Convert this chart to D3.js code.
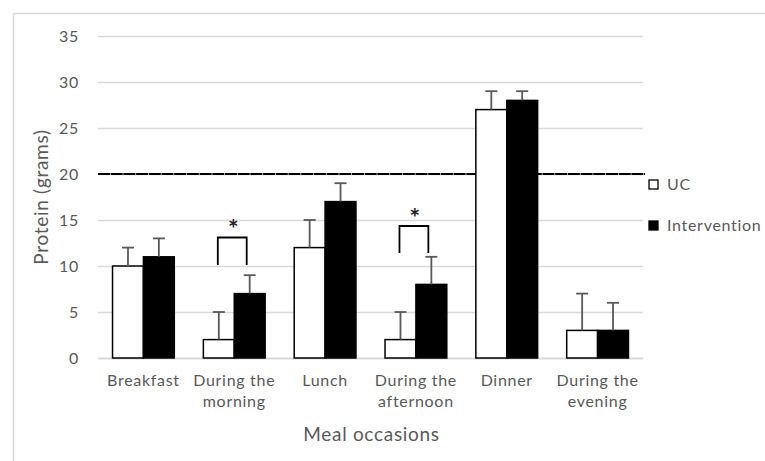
<!DOCTYPE html>
<html>
<head>
<meta charset="utf-8">
<script src="https://cdn.jsdelivr.net/npm/d3@7"></script>
<style>
  html,body{margin:0;padding:0;background:#fff;}
  svg{display:block;font-family:Lato,"Open Sans",sans-serif;}
</style>
</head>
<body>
<div id="chart"></div>
<script>
// data
const categories=["Breakfast","During the morning","Lunch","During the afternoon","Dinner","During the evening"];
const catLines=[["Breakfast"],["During the","morning"],["Lunch"],["During the","afternoon"],["Dinner"],["During the","evening"]];
const series=["UC","Intervention"];
const ucMean=[10,2,12,2,27,3];
const ucErr=[2,3,3,3,2,4];
const intMean=[11,7,17,8,28,3];
const intErr=[2,2,2,3,1,3];
const yTicks=[0,5,10,15,20,25,30,35];
const refLine=20;
// significance brackets: category, bracket top, leg bottom (grams)
const sigCats=["During the morning","During the afternoon"];
const sigTop=[13.1,14.35];
const sigBottom=[10.1,11.4];

(function(){
  const W=765,H=461;
  const m={left:98,right:122,top:36,bottom:103};
  const fill={UC:"#fff",Intervention:"#000"};
  const txt="#595959",grid="#d9d9d9",fs=16,ls=0.7;
  const svg=d3.select("#chart").append("svg").attr("width",W).attr("height",H);

  // outer frame (top and left edges visible)
  svg.append("line").attr("x1",13.5).attr("x2",W).attr("y1",13.5).attr("y2",13.5).attr("stroke",grid).attr("stroke-width",1.5);
  svg.append("line").attr("x1",13.5).attr("x2",13.5).attr("y1",13.5).attr("y2",H).attr("stroke",grid).attr("stroke-width",1.5);

  const x=d3.scaleBand().domain(categories).range([m.left,W-m.right]).paddingInner(.32).paddingOuter(.16);
  const xs=d3.scaleBand().domain(series).range([0,x.bandwidth()]);
  const y=d3.scaleLinear().domain([0,35]).range([H-m.bottom,m.top]);

  const rows=categories.map((c,i)=>({cat:c,lines:catLines[i],vals:[
    {s:"UC",v:ucMean[i],e:ucErr[i]},{s:"Intervention",v:intMean[i],e:intErr[i]}]}));

  // gridlines + tick labels
  svg.append("g").selectAll("line").data(yTicks).join("line")
    .attr("x1",m.left).attr("x2",W-m.right)
    .attr("y1",d=>Math.round(y(d))+.5).attr("y2",d=>Math.round(y(d))+.5)
    .attr("stroke",grid).attr("stroke-width",d=>d===0?2:1.3);
  svg.append("g").selectAll("text").data(yTicks).join("text")
    .attr("x",m.left-19).attr("y",d=>y(d)+6).attr("text-anchor","end")
    .attr("font-size",fs).attr("letter-spacing",ls).attr("fill",txt).text(d=>d);

  // reference line at 20 g
  svg.append("line").attr("x1",m.left).attr("x2",W-m.right+2)
    .attr("y1",y(refLine)).attr("y2",y(refLine))
    .attr("stroke","#000").attr("stroke-width",1.8).attr("stroke-dasharray","12,0.7");

  // bars
  const grp=svg.append("g").selectAll("g").data(rows).join("g")
    .attr("transform",d=>`translate(${x(d.cat)},0)`);
  grp.selectAll("rect").data(d=>d.vals).join("rect")
    .attr("x",d=>xs(d.s)).attr("width",xs.bandwidth())
    .attr("y",d=>y(d.v)).attr("height",d=>y(0)-y(d.v))
    .attr("fill",d=>fill[d.s]).attr("stroke","#000").attr("stroke-width",1.5);

  // error bars (upper only)
  const eb=grp.selectAll("g.eb").data(d=>d.vals).join("g").attr("class","eb")
    .attr("stroke","#595959").attr("stroke-width",1.8);
  eb.append("line").attr("x1",d=>xs(d.s)+xs.bandwidth()/2).attr("x2",d=>xs(d.s)+xs.bandwidth()/2)
    .attr("y1",d=>y(d.v)).attr("y2",d=>y(d.v+d.e));
  eb.append("line").attr("x1",d=>xs(d.s)+xs.bandwidth()/2-6).attr("x2",d=>xs(d.s)+xs.bandwidth()/2+6)
    .attr("y1",d=>y(d.v+d.e)).attr("y2",d=>y(d.v+d.e));

  // significance brackets
  const sig=sigCats.map((c,i)=>({cat:c,top:sigTop[i],bot:sigBottom[i]}));
  const sg=svg.append("g").selectAll("g").data(sig).join("g");
  sg.append("path")
    .attr("d",d=>{
      const x0=x(d.cat)+xs("UC")+xs.bandwidth()/2-1, x1=x(d.cat)+xs("Intervention")+xs.bandwidth()/2-3;
      return `M${x0},${y(d.bot)}V${y(d.top)}H${x1}V${y(d.bot)}`;
    })
    .attr("fill","none").attr("stroke","#000").attr("stroke-width",1.8);
  sg.append("text")
    .attr("x",d=>x(d.cat)+x.bandwidth()/2-1).attr("y",d=>y(d.top)+1)
    .attr("text-anchor","middle").attr("font-size",25).attr("font-weight",700).attr("fill","#222").text("*");

  // category labels
  const lab=svg.append("g").selectAll("text").data(rows).join("text")
    .attr("x",d=>x(d.cat)+x.bandwidth()/2).attr("y",y(0)+28)
    .attr("text-anchor","middle").attr("font-size",fs).attr("letter-spacing",ls).attr("fill",txt);
  lab.selectAll("tspan").data(d=>d.lines).join("tspan")
    .attr("x",function(){return d3.select(this.parentNode).attr("x");})
    .attr("dy",(d,i)=>i?21:0).text(d=>d);

  // axis titles
  svg.append("text").attr("x",(m.left+W-m.right)/2+1).attr("y",H-20)
    .attr("text-anchor","middle").attr("font-size",19).attr("letter-spacing",ls).attr("fill",txt).text("Meal occasions");
  svg.append("text").attr("transform",`translate(48,${(y(0)+y(35))/2}) rotate(-90)`)
    .attr("text-anchor","middle").attr("font-size",19).attr("letter-spacing",ls).attr("fill",txt).text("Protein (grams)");

  // legend
  const lg=svg.append("g").selectAll("g").data(series).join("g")
    .attr("transform",(d,i)=>`translate(649,${180+i*41})`);
  lg.append("rect").attr("width",9).attr("height",9).attr("fill",d=>fill[d]).attr("stroke","#000").attr("stroke-width",1.3);
  lg.append("text").attr("x",18).attr("y",10).attr("font-size",fs).attr("letter-spacing",ls).attr("fill",txt).text(d=>d);
})();
</script>
</body>
</html>
